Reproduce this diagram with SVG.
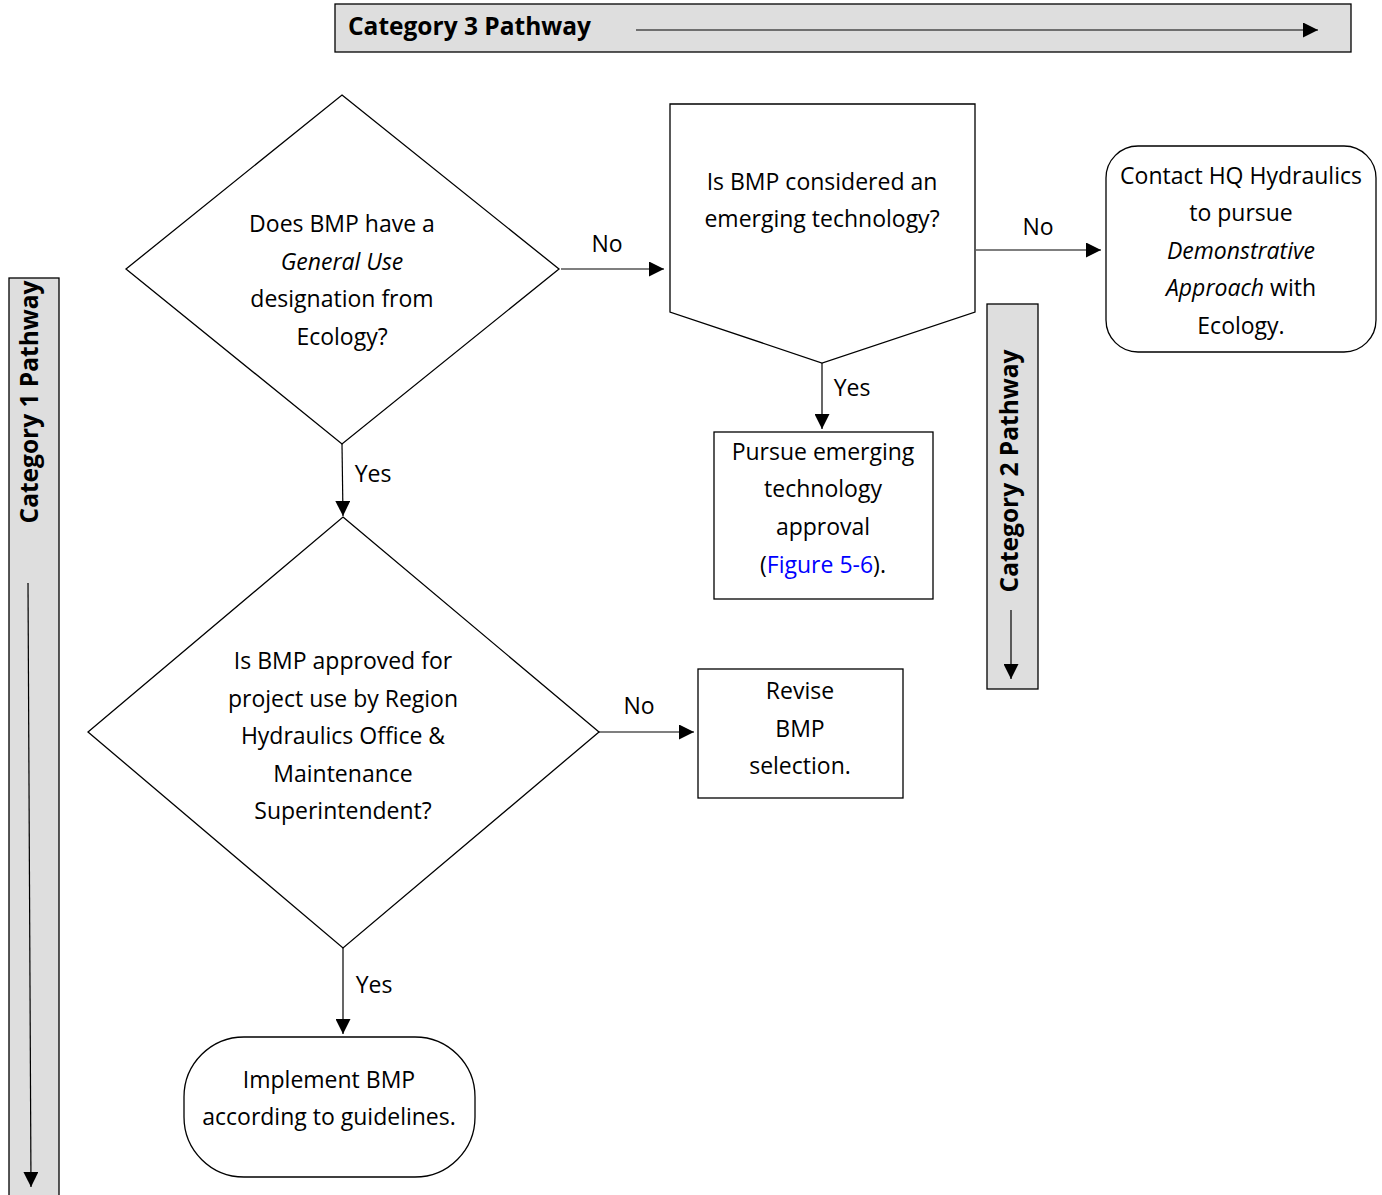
<svg xmlns="http://www.w3.org/2000/svg" width="1382" height="1195" viewBox="0 0 1382 1195">
<defs>
<style>
text{font-family:"Open Sans","Liberation Sans",sans-serif;font-size:23px;fill:#000}
.c{text-anchor:middle}
.b{font-weight:bold;font-size:24.5px}
.band{fill:#dedede;stroke:#000;stroke-width:1.3}
.node{fill:#fff;stroke:#000;stroke-width:1.3}
.ln{fill:none;stroke:#000;stroke-width:1.2}
.it{font-style:italic}
</style>
<marker id="ah" viewBox="0 0 10 10" refX="10" refY="5" markerWidth="15" markerHeight="15" markerUnits="userSpaceOnUse" orient="auto">
<path d="M0,0 L10,5 L0,10 z" fill="#000"/>
</marker>
</defs>
<rect width="1382" height="1195" fill="#fff"/>

<g id="cat3">
<rect class="band" x="335" y="4" width="1016" height="48"/>
<text class="b" x="348" y="35">Category 3 Pathway</text>
<line class="ln" x1="636" y1="30" x2="1318" y2="30" marker-end="url(#ah)"/>
</g>

<g id="cat1">
<rect class="band" x="9" y="278" width="50" height="930"/>
<text class="b c" transform="translate(38,402) rotate(-90)">Category 1 Pathway</text>
<line class="ln" x1="28" y1="583" x2="31" y2="1187" marker-end="url(#ah)"/>
</g>

<g id="cat2">
<rect class="band" x="987" y="304" width="51" height="385"/>
<text class="b c" transform="translate(1018,471) rotate(-90)">Category 2 Pathway</text>
<line class="ln" x1="1011" y1="610" x2="1011" y2="679" marker-end="url(#ah)"/>
</g>

<g id="connectors">
<line class="ln" x1="561" y1="269" x2="664" y2="269" marker-end="url(#ah)"/>
<text class="c" x="607" y="252">No</text>
<line class="ln" x1="976" y1="250" x2="1101" y2="250" marker-end="url(#ah)"/>
<text class="c" x="1038" y="235">No</text>
<line class="ln" x1="822" y1="363" x2="822" y2="429" marker-end="url(#ah)"/>
<text class="c" x="852" y="396">Yes</text>
<line class="ln" x1="342" y1="444" x2="343" y2="516" marker-end="url(#ah)"/>
<text class="c" x="373" y="482">Yes</text>
<line class="ln" x1="599" y1="732" x2="694" y2="732" marker-end="url(#ah)"/>
<text class="c" x="639" y="714">No</text>
<line class="ln" x1="343" y1="948" x2="343" y2="1034" marker-end="url(#ah)"/>
<text class="c" x="374" y="993">Yes</text>
</g>

<g id="q1">
<polygon class="node" points="342,95 559,269 342,444 126,269"/>
<text class="c" x="342" y="232">Does BMP have a</text>
<text class="c it" x="342" y="270">General Use</text>
<text class="c" x="342" y="307">designation from</text>
<text class="c" x="342" y="345">Ecology?</text>
</g>

<g id="q2">
<polygon class="node" points="670,104 975,104 975,312 822,363 670,312"/>
<text class="c" x="822" y="190">Is BMP considered an</text>
<text class="c" x="822" y="227">emerging technology?</text>
</g>

<g id="contact">
<rect class="node" x="1106" y="146" width="270" height="206" rx="32" ry="32"/>
<text class="c" x="1241" y="184">Contact HQ Hydraulics</text>
<text class="c" x="1241" y="221">to pursue</text>
<text class="c it" x="1241" y="259">Demonstrative</text>
<text class="c" x="1241" y="296"><tspan class="it">Approach</tspan> with</text>
<text class="c" x="1241" y="334">Ecology.</text>
</g>

<g id="pursue">
<rect class="node" x="714" y="432" width="219" height="167"/>
<text class="c" x="823" y="460">Pursue emerging</text>
<text class="c" x="823" y="497">technology</text>
<text class="c" x="823" y="535">approval</text>
<text class="c" x="823" y="573">(<tspan fill="#0000ff">Figure 5-6</tspan>).</text>
</g>

<g id="q3">
<polygon class="node" points="343,517 599,732 343,948 88,732"/>
<text class="c" x="343" y="669">Is BMP approved for</text>
<text class="c" x="343" y="707">project use by Region</text>
<text class="c" x="343" y="744">Hydraulics Office &amp;</text>
<text class="c" x="343" y="782">Maintenance</text>
<text class="c" x="343" y="819">Superintendent?</text>
</g>

<g id="revise">
<rect class="node" x="698" y="669" width="205" height="129"/>
<text class="c" x="800" y="699">Revise</text>
<text class="c" x="800" y="737">BMP</text>
<text class="c" x="800" y="774">selection.</text>
</g>

<g id="implement">
<rect class="node" x="184" y="1037" width="291" height="140" rx="60" ry="60"/>
<text class="c" x="329" y="1088">Implement BMP</text>
<text class="c" x="329" y="1125">according to guidelines.</text>
</g>
</svg>
